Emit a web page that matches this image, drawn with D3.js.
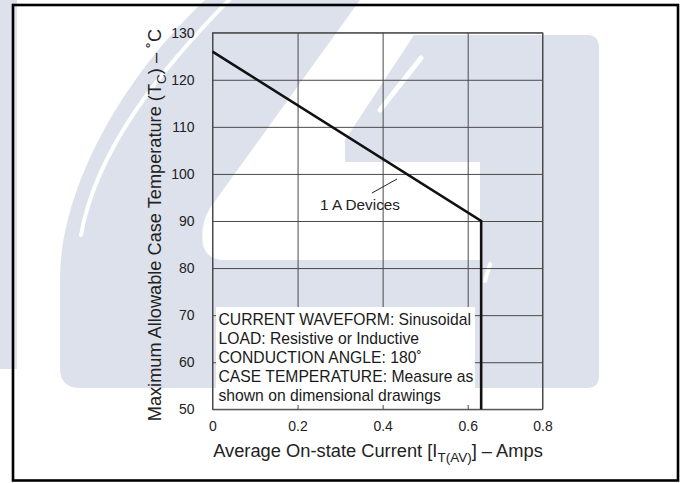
<!DOCTYPE html>
<html>
<head>
<meta charset="utf-8">
<script src="https://cdn.jsdelivr.net/npm/d3@7"></script>
<style>
  html, body { margin: 0; padding: 0; background: #fff; }
  svg { display: block; font-family: "Liberation Sans", Arial, Helvetica, sans-serif; }
</style>
</head>
<body>
<svg id="chart" width="684" height="483"></svg>
<script>
// ---- data ----
const xTicks = [0, 0.2, 0.4, 0.6, 0.8];
const yTicks = [50, 60, 70, 80, 90, 100, 110, 120, 130];
const xBreaks = [0, 0.6, 0.8];          // axis breakpoints (the printed axis is not uniform past 0.6)
const currentA = [0, 0.636, 0.636];     // Average on-state current (A)
const tempC = [126, 90, 50];            // Max allowable case temperature (°C)
const curveLabel = "1 A Devices";
const noteLines = [
  "CURRENT WAVEFORM: Sinusoidal",
  "LOAD: Resistive or Inductive",
  "CONDUCTION ANGLE: 180˚",
  "CASE TEMPERATURE: Measure as",
  "shown on dimensional drawings"
];

// ---- layout ----
const W = 684, H = 483;
const plot = { left: 212.5, right: 542.5, top: 32.7, bottom: 409.3 };
const FONT = '"Liberation Sans", Arial, Helvetica, sans-serif';
const WM = "#dde1ec";

const svg = d3.select("#chart");

// ---- watermark (decorative background) ----
const wm = svg.append("g");
wm.append("rect").attr("x", 0).attr("y", 0).attr("width", 17).attr("height", 369).attr("fill", WM);
wm.append("path").attr("fill", WM).attr("d",
  "M205,0 L360,0 L210,208 Q200,225 203,245 Q207,260 225,260 L480,260 L480,162 L345,162 L345,140 L414,35 " +
  "L587,35 Q599,35 599,48 L599,376 Q599,388 587,388 L80,388 Q60,388 60,368 L60,280 C60,195 115,85 205,0 Z");
wm.append("path").attr("fill", "none").attr("stroke", "#fff").attr("stroke-width", 4).attr("stroke-linecap", "round")
  .attr("d", "M231,-2 C160,70 96,150 81,235");
wm.append("path").attr("fill", "none").attr("stroke", "#fff").attr("stroke-width", 5).attr("stroke-linecap", "round")
  .attr("d", "M421,58 L380,110");
wm.append("path").attr("fill", "none").attr("stroke", "#fff").attr("stroke-width", 4).attr("stroke-linecap", "round")
  .attr("d", "M490,264 L485,281");

// ---- outer frame ----
svg.append("rect").attr("x", 13).attr("y", 5).attr("width", 665).attr("height", 475.5)
  .attr("fill", "none").attr("stroke", "#000").attr("stroke-width", 2.6);

// ---- scales ----
const x = d3.scaleLinear().domain(xBreaks).range([plot.left, plot.left + 255.2, plot.right]);
const y = d3.scaleLinear().domain([50, 130]).range([plot.bottom, plot.top]);

const g = svg.append("g");

// grid + axes
const yAxis = d3.axisLeft(y).tickValues(yTicks).tickFormat(d3.format("d"))
  .tickSize(-(plot.right - plot.left)).tickPadding(18);
const yG = g.append("g").attr("transform", `translate(${plot.left},0)`).call(yAxis);
const xAxis = d3.axisBottom(x).tickValues(xTicks).tickFormat(d => d === 0 ? "0" : d3.format(".1f")(d))
  .tickSize(-(plot.bottom - plot.top)).tickPadding(12);
const xG = g.append("g").attr("transform", `translate(0,${plot.bottom})`).call(xAxis);

[yG, xG].forEach(a => {
  a.select(".domain").remove();
  a.selectAll(".tick line").attr("stroke", "#4a4a4a").attr("stroke-width", 1);
  a.selectAll(".tick text").attr("fill", "#222").style("font-family", FONT).style("font-size", "14px");
});

// plot border
g.append("rect").attr("x", plot.left).attr("y", plot.top)
  .attr("width", plot.right - plot.left).attr("height", plot.bottom - plot.top)
  .attr("fill", "none").attr("stroke", "#4a4a4a").attr("stroke-width", 1);

// note box
const note = g.append("g");
note.append("rect").attr("x", 216).attr("y", 307).attr("width", 259).attr("height", 98).attr("fill", "#fff");
note.selectAll("text").data(noteLines).join("text")
  .attr("x", 218.5).attr("y", (d, i) => 325 + i * 19)
  .attr("fill", "#1a1a1a").style("font-family", FONT).style("font-size", "15.7px")
  .text(d => d);

// curve
const pts = currentA.map((c, i) => [c, tempC[i]]);
g.append("path").datum(pts)
  .attr("fill", "none").attr("stroke", "#111").attr("stroke-width", 2.6).attr("stroke-linejoin", "miter")
  .attr("d", d3.line().x(d => x(d[0])).y(d => y(d[1])));

// curve label + leader
g.append("line").attr("x1", 372).attr("y1", 193).attr("x2", 397).attr("y2", 179)
  .attr("stroke", "#222").attr("stroke-width", 1);
g.append("text").attr("x", 360).attr("y", 209.5).attr("text-anchor", "middle")
  .attr("fill", "#222").style("font-family", FONT).style("font-size", "15.3px").text(curveLabel);

// axis titles
const xt = svg.append("text").attr("x", (plot.left + plot.right) / 2 + 0.5).attr("y", 456.5).attr("text-anchor", "middle")
  .attr("fill", "#222").style("font-family", FONT).style("font-size", "18.3px");
xt.append("tspan").text("Average On-state Current [I");
xt.append("tspan").attr("dy", 5).style("font-size", "13.5px").text("T(AV)");
xt.append("tspan").attr("dy", -5).text("] – Amps");

const yt = svg.append("text").attr("transform", `translate(161,${225}) rotate(-90)`).attr("text-anchor", "middle")
  .attr("fill", "#222").style("font-family", FONT).style("font-size", "18.2px");
yt.append("tspan").text("Maximum Allowable Case Temperature (T");
yt.append("tspan").attr("dy", 5).style("font-size", "13.5px").text("C");
yt.append("tspan").attr("dy", -5).text(") – ˚C");
</script>
</body>
</html>
